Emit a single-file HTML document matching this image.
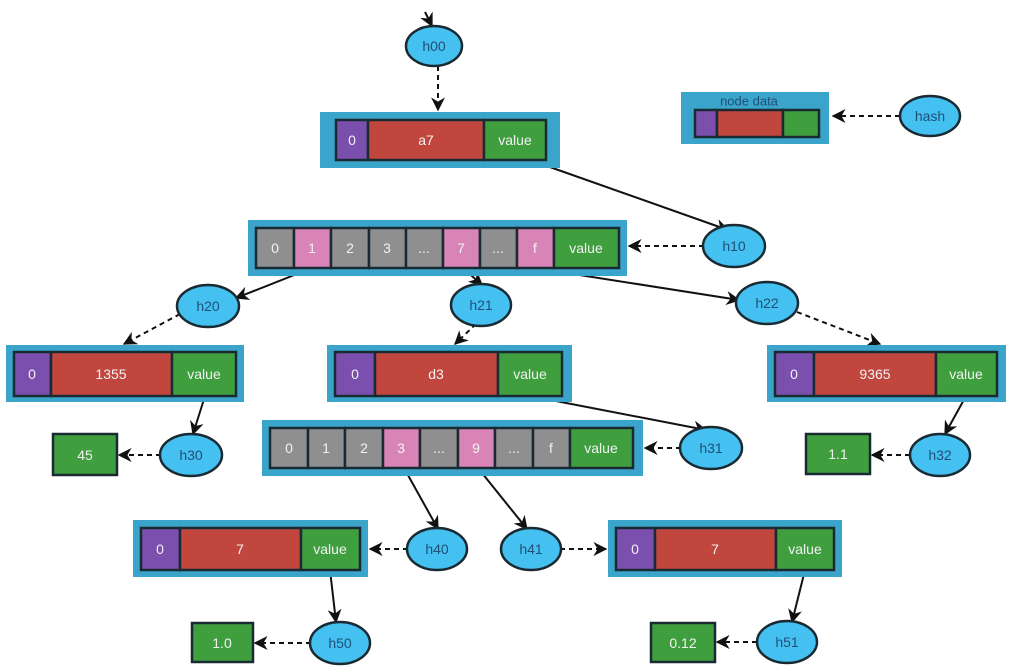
<!DOCTYPE html>
<html><head><meta charset="utf-8"><style>
html,body{margin:0;padding:0;background:#fff;}
svg{display:block;font-family:"Liberation Sans",sans-serif;}
.o{fill:#3ba4cb;}
.c{stroke:#1a2a33;stroke-width:2.5;}
.p{fill:#7a4fae;}.r{fill:#c1463e;}.g{fill:#3f9f3f;}.k{fill:#d884b6;}.y{fill:#8f8f8f;}
.e{fill:#45c1f1;stroke:#1a2a33;stroke-width:2.5;}
.t{fill:#f2f2f2;font-size:14px;text-anchor:middle;dominant-baseline:central;}
.h{fill:#1f4f78;font-size:14px;text-anchor:middle;dominant-baseline:central;}
.s{stroke:#111;stroke-width:2;fill:none;}
.d{stroke:#111;stroke-width:2;fill:none;stroke-dasharray:5,4;}
</style></head><body>
<svg width="1012" height="668" viewBox="0 0 1012 668">
<defs><marker id="a" viewBox="0 0 10 10" refX="9" refY="5" markerWidth="7" markerHeight="7" orient="auto"><path d="M0,0 L10,5 L0,10 L3,5z" fill="#111"/></marker></defs>

<!-- connectors -->
<path class="s" d="M425,12 L432,26" marker-end="url(#a)"/>
<path class="d" d="M438,66 L438,110" marker-end="url(#a)"/>
<path class="d" d="M900,116 L833,116" marker-end="url(#a)"/>
<path class="s" d="M530,160 L728,230" marker-end="url(#a)"/>
<path class="d" d="M704,246 L629,246" marker-end="url(#a)"/>
<path class="s" d="M312,268 L236,298" marker-end="url(#a)"/>
<path class="s" d="M463,268 L482,285" marker-end="url(#a)"/>
<path class="s" d="M535,268 L739,300" marker-end="url(#a)"/>
<path class="d" d="M180,314 L124,344" marker-end="url(#a)"/>
<path class="d" d="M476,324 L455,344" marker-end="url(#a)"/>
<path class="d" d="M797,312 L880,344" marker-end="url(#a)"/>
<path class="s" d="M205,396 L193,434" marker-end="url(#a)"/>
<path class="d" d="M161,455 L119,455" marker-end="url(#a)"/>
<path class="s" d="M530,396 L706,430" marker-end="url(#a)"/>
<path class="d" d="M681,448 L645,448" marker-end="url(#a)"/>
<path class="s" d="M966,396 L945,434" marker-end="url(#a)"/>
<path class="d" d="M910,455 L872,455" marker-end="url(#a)"/>
<path class="s" d="M404,468 L438,529" marker-end="url(#a)"/>
<path class="s" d="M478,468 L527,529" marker-end="url(#a)"/>
<path class="d" d="M408,549 L370,549" marker-end="url(#a)"/>
<path class="d" d="M560,549 L606,549" marker-end="url(#a)"/>
<path class="s" d="M330,570 L336,622" marker-end="url(#a)"/>
<path class="d" d="M311,643 L255,643" marker-end="url(#a)"/>
<path class="s" d="M805,570 L792,622" marker-end="url(#a)"/>
<path class="d" d="M757,642 L717,642" marker-end="url(#a)"/>

<!-- h00 leaf a7 -->
<rect class="o" x="320" y="112" width="240" height="56"/>
<rect class="c p" x="336" y="120" width="32" height="40"/>
<rect class="c r" x="368" y="120" width="116" height="40"/>
<rect class="c g" x="484" y="120" width="62" height="40"/>
<text class="t" x="352" y="140">0</text><text class="t" x="426" y="140">a7</text><text class="t" x="515" y="140">value</text>

<!-- legend -->
<rect class="o" x="681" y="92" width="148" height="52"/>
<text x="749" y="101" style="fill:#1f4f78;font-size:13px;text-anchor:middle;dominant-baseline:central">node data</text>
<rect class="c p" x="695" y="110" width="22" height="27"/>
<rect class="c r" x="717" y="110" width="66" height="27"/>
<rect class="c g" x="783" y="110" width="36" height="27"/>

<!-- branch 1 -->
<rect class="o" x="248" y="220" width="379" height="56"/>
<rect class="c y" x="256" y="228" width="38" height="40"/>
<rect class="c k" x="294" y="228" width="37" height="40"/>
<rect class="c y" x="331" y="228" width="38" height="40"/>
<rect class="c y" x="369" y="228" width="37" height="40"/>
<rect class="c y" x="406" y="228" width="37" height="40"/>
<rect class="c k" x="443" y="228" width="37" height="40"/>
<rect class="c y" x="480" y="228" width="37" height="40"/>
<rect class="c k" x="517" y="228" width="37" height="40"/>
<rect class="c g" x="554" y="228" width="65" height="40"/>
<text class="t" x="275" y="248">0</text><text class="t" x="312" y="248">1</text><text class="t" x="350" y="248">2</text><text class="t" x="387" y="248">3</text><text class="t" x="424" y="248">...</text><text class="t" x="461" y="248">7</text><text class="t" x="498" y="248">...</text><text class="t" x="535" y="248">f</text><text class="t" x="586" y="248">value</text>

<!-- leaf 1355 -->
<rect class="o" x="6" y="345" width="238" height="57"/>
<rect class="c p" x="14" y="352" width="37" height="44"/>
<rect class="c r" x="51" y="352" width="121" height="44"/>
<rect class="c g" x="172" y="352" width="64" height="44"/>
<text class="t" x="32" y="374">0</text><text class="t" x="111" y="374">1355</text><text class="t" x="204" y="374">value</text>

<!-- leaf d3 -->
<rect class="o" x="327" y="345" width="245" height="57"/>
<rect class="c p" x="335" y="352" width="40" height="44"/>
<rect class="c r" x="375" y="352" width="123" height="44"/>
<rect class="c g" x="498" y="352" width="64" height="44"/>
<text class="t" x="355" y="374">0</text><text class="t" x="436" y="374">d3</text><text class="t" x="530" y="374">value</text>

<!-- leaf 9365 -->
<rect class="o" x="767" y="345" width="239" height="57"/>
<rect class="c p" x="775" y="352" width="39" height="44"/>
<rect class="c r" x="814" y="352" width="122" height="44"/>
<rect class="c g" x="936" y="352" width="61" height="44"/>
<text class="t" x="794" y="374">0</text><text class="t" x="875" y="374">9365</text><text class="t" x="966" y="374">value</text>

<!-- value boxes -->
<rect class="c g" x="53" y="434" width="64" height="41"/><text class="t" x="85" y="455">45</text>
<rect class="c g" x="806" y="434" width="64" height="40"/><text class="t" x="838" y="454">1.1</text>
<rect class="c g" x="192" y="623" width="61" height="39"/><text class="t" x="222" y="643">1.0</text>
<rect class="c g" x="651" y="623" width="64" height="39"/><text class="t" x="683" y="643">0.12</text>

<!-- branch 2 -->
<rect class="o" x="262" y="420" width="381" height="56"/>
<rect class="c y" x="270" y="428" width="38" height="40"/>
<rect class="c y" x="308" y="428" width="37" height="40"/>
<rect class="c y" x="345" y="428" width="38" height="40"/>
<rect class="c k" x="383" y="428" width="37" height="40"/>
<rect class="c y" x="420" y="428" width="38" height="40"/>
<rect class="c k" x="458" y="428" width="37" height="40"/>
<rect class="c y" x="495" y="428" width="38" height="40"/>
<rect class="c y" x="533" y="428" width="37" height="40"/>
<rect class="c g" x="570" y="428" width="63" height="40"/>
<text class="t" x="289" y="448">0</text><text class="t" x="326" y="448">1</text><text class="t" x="364" y="448">2</text><text class="t" x="401" y="448">3</text><text class="t" x="439" y="448">...</text><text class="t" x="476" y="448">9</text><text class="t" x="514" y="448">...</text><text class="t" x="551" y="448">f</text><text class="t" x="601" y="448">value</text>

<!-- leaf 7 left -->
<rect class="o" x="133" y="520" width="235" height="57"/>
<rect class="c p" x="141" y="528" width="39" height="42"/>
<rect class="c r" x="180" y="528" width="121" height="42"/>
<rect class="c g" x="301" y="528" width="59" height="42"/>
<text class="t" x="160" y="549">0</text><text class="t" x="240" y="549">7</text><text class="t" x="330" y="549">value</text>

<!-- leaf 7 right -->
<rect class="o" x="608" y="520" width="234" height="57"/>
<rect class="c p" x="616" y="528" width="39" height="42"/>
<rect class="c r" x="655" y="528" width="121" height="42"/>
<rect class="c g" x="776" y="528" width="58" height="42"/>
<text class="t" x="635" y="549">0</text><text class="t" x="715" y="549">7</text><text class="t" x="805" y="549">value</text>

<!-- ellipses -->
<ellipse class="e" cx="434" cy="46" rx="28" ry="20"/><text class="h" x="434" y="46">h00</text>
<ellipse class="e" cx="930" cy="116" rx="30" ry="20"/><text class="h" x="930" y="116">hash</text>
<ellipse class="e" cx="734" cy="246" rx="31" ry="21"/><text class="h" x="734" y="246">h10</text>
<ellipse class="e" cx="208" cy="306" rx="31" ry="21"/><text class="h" x="208" y="306">h20</text>
<ellipse class="e" cx="481" cy="305" rx="30" ry="21"/><text class="h" x="481" y="305">h21</text>
<ellipse class="e" cx="767" cy="303" rx="31" ry="21"/><text class="h" x="767" y="303">h22</text>
<ellipse class="e" cx="191" cy="455" rx="31" ry="21"/><text class="h" x="191" y="455">h30</text>
<ellipse class="e" cx="711" cy="448" rx="31" ry="21"/><text class="h" x="711" y="448">h31</text>
<ellipse class="e" cx="940" cy="455" rx="30" ry="21"/><text class="h" x="940" y="455">h32</text>
<ellipse class="e" cx="437" cy="549" rx="30" ry="21"/><text class="h" x="437" y="549">h40</text>
<ellipse class="e" cx="531" cy="549" rx="30" ry="21"/><text class="h" x="531" y="549">h41</text>
<ellipse class="e" cx="340" cy="643" rx="30" ry="21"/><text class="h" x="340" y="643">h50</text>
<ellipse class="e" cx="787" cy="642" rx="30" ry="21"/><text class="h" x="787" y="642">h51</text>
</svg>
</body></html>
